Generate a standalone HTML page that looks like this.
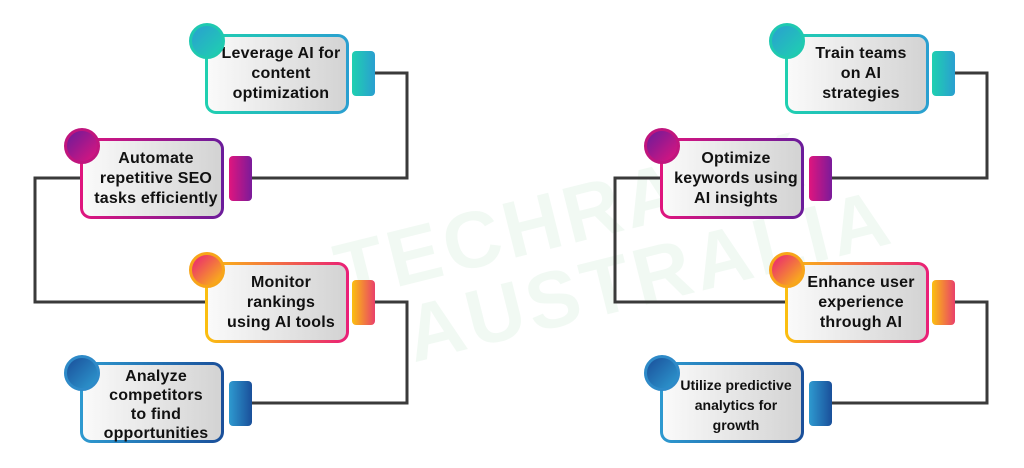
<!DOCTYPE html>
<html><head><style>
body{margin:0;width:1024px;height:468px;background:#fff;position:relative;overflow:hidden;font-family:"Liberation Sans",sans-serif}
.b{position:absolute;border-radius:11px;padding:3px;box-sizing:border-box}
.b .in{width:100%;height:100%;border-radius:8px;background:linear-gradient(90deg,#fafafa,#d3d3d3);display:flex;align-items:center;justify-content:center;text-align:center;font-weight:bold;font-size:16px;letter-spacing:0.2px;line-height:20px;color:#111;box-sizing:border-box;padding:0 0 0 8px;white-space:nowrap}
.c{position:absolute;width:36px;height:36px;border-radius:50%;box-sizing:border-box}
.t{position:absolute;width:23px;height:45px;border-radius:4px}
svg{position:absolute;left:0;top:0}
.wm{position:absolute;color:rgba(120,200,140,0.10);font-weight:bold;font-size:80px;transform:rotate(-14deg);letter-spacing:4px;white-space:nowrap}
</style></head><body>
<div class="wm" style="left:330px;top:170px">TECHRANK</div>
<div class="wm" style="left:400px;top:230px">AUSTRALIA</div>
<svg width="1024" height="468" fill="none" stroke="#3a3a3a" stroke-width="3">
<polyline points="375,73 407,73 407,178 252,178"/>
<polyline points="80,178 35,178 35,302 205,302"/>
<polyline points="375,302 407,302 407,403 252,403"/>
<polyline points="955,73 987,73 987,178 832,178"/>
<polyline points="660,178 615,178 615,302 785,302"/>
<polyline points="955,302 987,302 987,403 832,403"/>
</svg>

<div class="b" style="left:205px;top:34px;width:144px;height:80px;background:linear-gradient(90deg,#1fd0b0,#2a9fd0)"><div class="in">Leverage AI for<br>content<br>optimization</div></div>
<div class="c" style="left:189px;top:23px;background:linear-gradient(135deg,#2a9fd0,#1fd0b0);border:3px solid #1fc9b0"></div>
<div class="t" style="left:352px;top:51px;background:linear-gradient(90deg,#1fd0b0,#2a9fd0)"></div>

<div class="b" style="left:80px;top:138px;width:144px;height:81px;background:linear-gradient(90deg,#e0157e,#6a1b9a)"><div class="in">Automate<br>repetitive SEO<br>tasks efficiently</div></div>
<div class="c" style="left:64px;top:128px;background:linear-gradient(135deg,#6a1b9a,#e0157e);border:3px solid #c0157e"></div>
<div class="t" style="left:229px;top:156px;background:linear-gradient(90deg,#e0157e,#7a1b9a)"></div>

<div class="b" style="left:205px;top:262px;width:144px;height:81px;background:linear-gradient(90deg,#fbc00f,#e91e78)"><div class="in">Monitor<br>rankings<br>using AI tools</div></div>
<div class="c" style="left:189px;top:252px;background:linear-gradient(135deg,#e91e78,#fbc00f);border:3px solid #f7a51a"></div>
<div class="t" style="left:352px;top:280px;background:linear-gradient(90deg,#fbc00f,#e9406a)"></div>

<div class="b" style="left:80px;top:362px;width:144px;height:81px;background:linear-gradient(90deg,#2e9ad0,#1a4f9a)"><div class="in" style="line-height:19px;padding-top:4px">Analyze<br>competitors<br>to find<br>opportunities</div></div>
<div class="c" style="left:64px;top:355px;background:linear-gradient(135deg,#1a4f9a,#2e9ad0);border:3px solid #2e8ac8"></div>
<div class="t" style="left:229px;top:381px;background:linear-gradient(90deg,#2e9ad0,#1a4f9a)"></div>

<div class="b" style="left:785px;top:34px;width:144px;height:80px;background:linear-gradient(90deg,#1fd0b0,#2a9fd0)"><div class="in">Train teams<br>on AI<br>strategies</div></div>
<div class="c" style="left:769px;top:23px;background:linear-gradient(135deg,#2a9fd0,#1fd0b0);border:3px solid #1fc9b0"></div>
<div class="t" style="left:932px;top:51px;background:linear-gradient(90deg,#1fd0b0,#2a9fd0)"></div>

<div class="b" style="left:660px;top:138px;width:144px;height:81px;background:linear-gradient(90deg,#e0157e,#6a1b9a)"><div class="in">Optimize<br>keywords using<br>AI insights</div></div>
<div class="c" style="left:644px;top:128px;background:linear-gradient(135deg,#6a1b9a,#e0157e);border:3px solid #c0157e"></div>
<div class="t" style="left:809px;top:156px;background:linear-gradient(90deg,#e0157e,#7a1b9a)"></div>

<div class="b" style="left:785px;top:262px;width:144px;height:81px;background:linear-gradient(90deg,#fbc00f,#e91e78)"><div class="in">Enhance user<br>experience<br>through AI</div></div>
<div class="c" style="left:769px;top:252px;background:linear-gradient(135deg,#e91e78,#fbc00f);border:3px solid #f7a51a"></div>
<div class="t" style="left:932px;top:280px;background:linear-gradient(90deg,#fbc00f,#e9406a)"></div>

<div class="b" style="left:660px;top:362px;width:144px;height:81px;background:linear-gradient(90deg,#2e9ad0,#1a4f9a)"><div class="in" style="font-size:14px;letter-spacing:0;padding-top:4px">Utilize predictive<br>analytics for<br>growth</div></div>
<div class="c" style="left:644px;top:355px;background:linear-gradient(135deg,#1a4f9a,#2e9ad0);border:3px solid #2e8ac8"></div>
<div class="t" style="left:809px;top:381px;background:linear-gradient(90deg,#2e9ad0,#1a4f9a)"></div>
</body></html>
